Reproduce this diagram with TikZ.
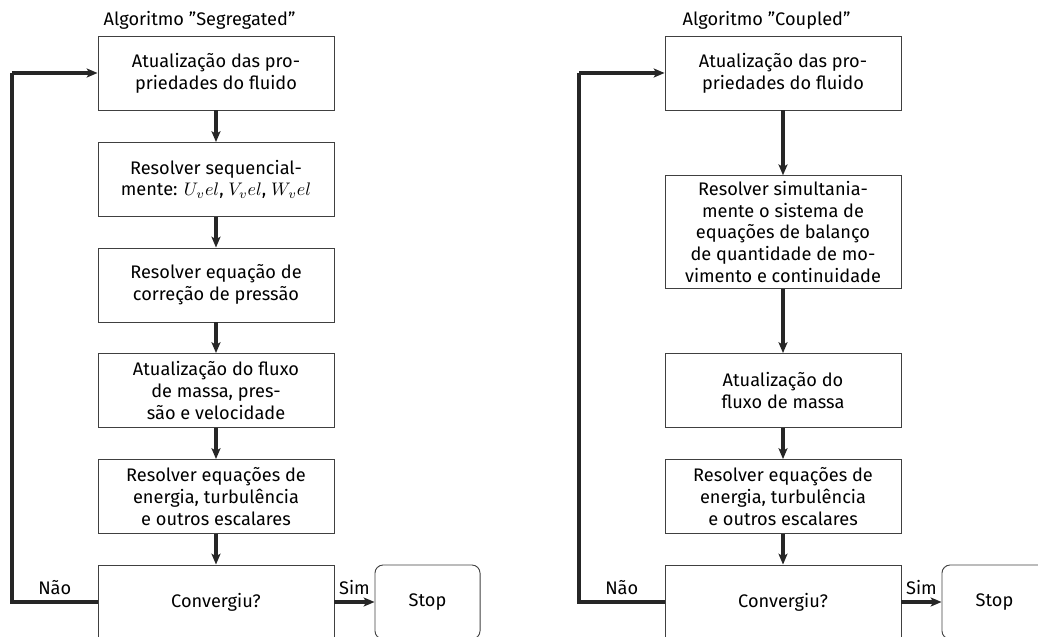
\documentclass[tikz,border=0pt]{standalone}
\usepackage{fontspec}
\setmainfont{Fira Sans}
\usetikzlibrary{arrows.meta}
\begin{document}
\begin{tikzpicture}[x=0.55pt,y=-0.55pt,
  box/.style={draw=black!75,line width=0.5pt,minimum width=129.8pt,minimum height=40.7pt,align=center,inner sep=3pt},
  stopbox/.style={draw=black!75,line width=0.5pt,rounded corners=4.5pt,minimum width=57.8pt,minimum height=40.7pt},
  flow/.style={line width=1.7pt,draw=black!85,-{Stealth[length=6pt,width=5pt,inset=1.5pt]}},
  loopline/.style={line width=1.7pt,draw=black!85}]
  \useasboundingbox (0,0) rectangle (1038,637);
  \clip (0,0) rectangle (1038,637);
  % Segregated
  \path (199.5,20) node (tseg) {Algoritmo ''Segregated''};
  \path (216,73) node[box] (s1) {Atualização das pro-\\priedades do fluido};
  \path (216,179.5) node[box] (s2) {Resolver sequencial-\\mente: $U_vel$, $V_vel$, $W_vel$};
  \path (216,285) node[box] (s3) {Resolver equação de\\correção de pressão};
  \path (216,390.5) node[box] (s4) {Atualização do fluxo\\de massa, pres-\\são e velocidade};
  \path (216,496.5) node[box] (s5) {Resolver equações de\\energia, turbulência\\e outros escalares};
  \path (216,602) node[box] (s6) {Convergiu?};
  \path (427.5,602) node[stopbox] (sstop) {Stop};
  \draw[flow] (s1) -- (s2);
  \draw[flow] (s2) -- (s3);
  \draw[flow] (s3) -- (s4);
  \draw[flow] (s4) -- (s5);
  \draw[flow] (s5) -- (s6);
  \draw[flow] (s6) -- node[above] (ssim) {Sim} (sstop);
  \coordinate (sbot) at (12,602);
  \coordinate (stop) at (12,73);
  \draw[loopline] (s6.west) -- node[above] (snao) {Não} (sbot) -- (stop);
  \draw[flow] (stop) -- (s1.west);
  % Coupled
  \path (766.5,20) node (tcou) {Algoritmo ''Coupled''};
  \path (783,73) node[box] (c1) {Atualização das pro-\\priedades do fluido};
  \path (783,232) node[box] (c2) {Resolver simultania-\\mente o sistema de\\equações de balanço\\de quantidade de mo-\\vimento e continuidade};
  \path (783,390.5) node[box] (c3) {Atualização do\\fluxo de massa};
  \path (783,496.5) node[box] (c4) {Resolver equações de\\energia, turbulência\\e outros escalares};
  \path (783,602) node[box] (c5) {Convergiu?};
  \path (994.5,602) node[stopbox] (cstop) {Stop};
  \draw[flow] (c1) -- (c2);
  \draw[flow] (c2) -- (c3);
  \draw[flow] (c3) -- (c4);
  \draw[flow] (c4) -- (c5);
  \draw[flow] (c5) -- node[above] (csim) {Sim} (cstop);
  \coordinate (cbot) at (579,602);
  \coordinate (ctop) at (579,73);
  \draw[loopline] (c5.west) -- node[above] (cnao) {Não} (cbot) -- (ctop);
  \draw[flow] (ctop) -- (c1.west);
\end{tikzpicture}
\end{document}
